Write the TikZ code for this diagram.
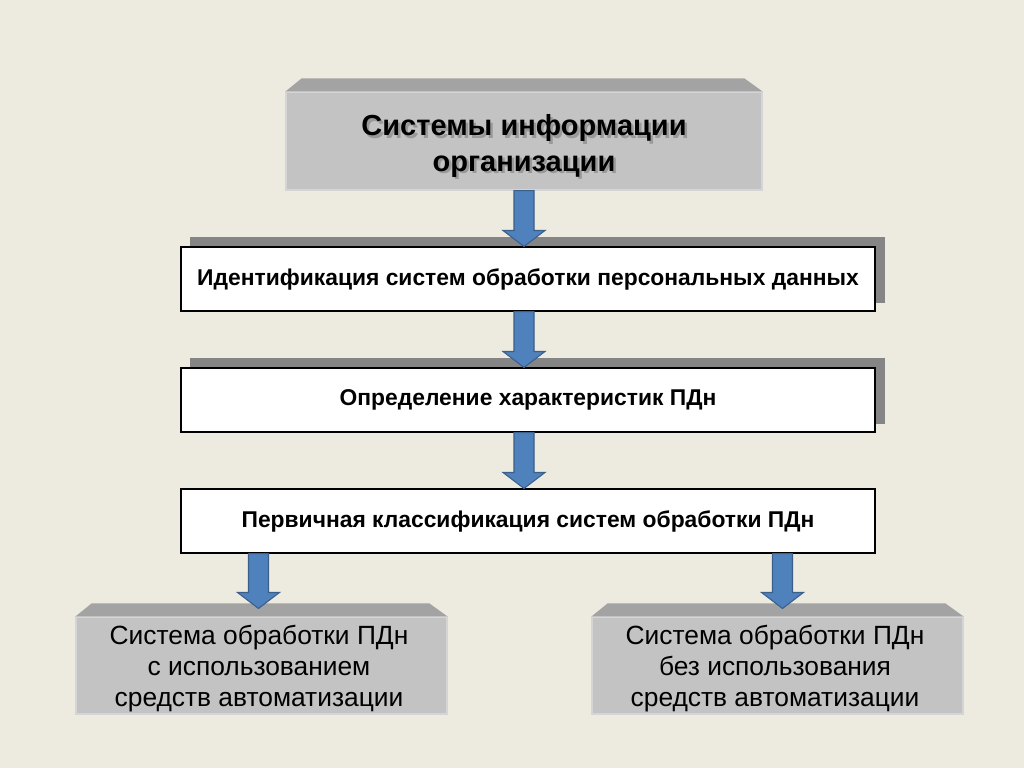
\documentclass[tikz,border=0pt]{standalone}
\usepackage{fontspec}
\setmainfont{Liberation Sans}
\usetikzlibrary{calc}

\definecolor{paper}{HTML}{EDEAE0}
\definecolor{frontgray}{HTML}{C3C3C3}
\definecolor{topgray}{HTML}{A3A3A3}
\definecolor{shadegray}{HTML}{858585}
\definecolor{arrowblue}{HTML}{4F81BD}
\definecolor{arrowline}{HTML}{3A5F8B}

\tikzset{
  bevelbox/.style={fill=frontgray, draw=frontgray!70!white, line width=0.6pt, inner sep=0pt, align=center},
  plainbox/.style={fill=white, draw=black, line width=0.6pt, minimum width=694*0.02cm, minimum height=64*0.02cm,
                   font=\bfseries\fontsize{13}{15}\selectfont},
  blockarrow/.style={fill=arrowblue, draw=arrowline, line width=0.6pt, line join=miter}
}

% fat arrow from #1 down to #2
\newcommand\blockarrow[2]{%
  \draw[blockarrow] ($(#1)+(-10,0)$) -- ($(#2)+(-10,-16)$) -- ($(#2)+(-21,-16)$) -- (#2)
    -- ($(#2)+(21,-16)$) -- ($(#2)+(10,-16)$) -- ($(#1)+(10,0)$) -- cycle;}

% slanted top face over a bevel box
\newcommand\beveltop[1]{%
  \fill[topgray] (#1.north west) -- ($(#1.north west)+(16,-13)$) -- ($(#1.north east)+(-18,-13)$)
    -- (#1.north east) -- cycle;}

\begin{document}
\begin{tikzpicture}[x=0.02cm, y=-0.02cm]
	\fill[paper] (0,0) rectangle (1024,768);
	\useasboundingbox (0,0) rectangle (1024,768);

	% top box
	\node[bevelbox, minimum width=476*0.02cm, minimum height=98*0.02cm] (sys) at (524,141) {};
	\beveltop{sys}
	\node[text=black!40, font=\bfseries\fontsize{16.5}{20}\selectfont, align=center] (sysshade) at (526.5,148.5)
		{Системы информации\\организации};
	\node[font=\bfseries\fontsize{16.5}{20}\selectfont, align=center] (systext) at (524,146)
		{Системы информации\\организации};

	% shadows of the white boxes
	\fill[shadegray] (190,237) rectangle (885,303);
	\fill[shadegray] (190,358) rectangle (885,424);

	\node[plainbox] (ident) at (528,279) {\raisebox{-2pt}{Идентификация систем обработки персональных данных}};
	\node[plainbox] (chars) at (528,400) {\raisebox{-2pt}{Определение характеристик ПДн}};
	\node[plainbox] (prim) at (528,521) {\raisebox{-2pt}{Первичная классификация систем обработки ПДн}};

	% bottom boxes
	\node[bevelbox, minimum width=371*0.02cm, minimum height=97*0.02cm] (auto) at (261.5,665.5) {};
	\node[font=\fontsize{15}{17.5}\selectfont, align=center] (autotext) at (259,668.5)
		{Система обработки ПДн\\с использованием\\средств автоматизации};
	\beveltop{auto}
	\node[bevelbox, minimum width=371*0.02cm, minimum height=97*0.02cm] (manual) at (777.5,665.5) {};
	\node[font=\fontsize{15}{17.5}\selectfont, align=center] (manualtext) at (775,668.5)
		{Система обработки ПДн\\без использования\\средств автоматизации};
	\beveltop{manual}

	% arrows
	\blockarrow{sys.south}{sys.south |- ident.north}
	\blockarrow{sys.south |- ident.south}{sys.south |- chars.north}
	\blockarrow{sys.south |- chars.south}{sys.south |- prim.north}
	\coordinate (autotip) at ($(auto.north)+(-3,-8)$);
	\coordinate (manualtip) at ($(manual.north)+(5,-8)$);
	\blockarrow{autotip |- prim.south}{autotip}
	\blockarrow{manualtip |- prim.south}{manualtip}
\end{tikzpicture}
\end{document}
